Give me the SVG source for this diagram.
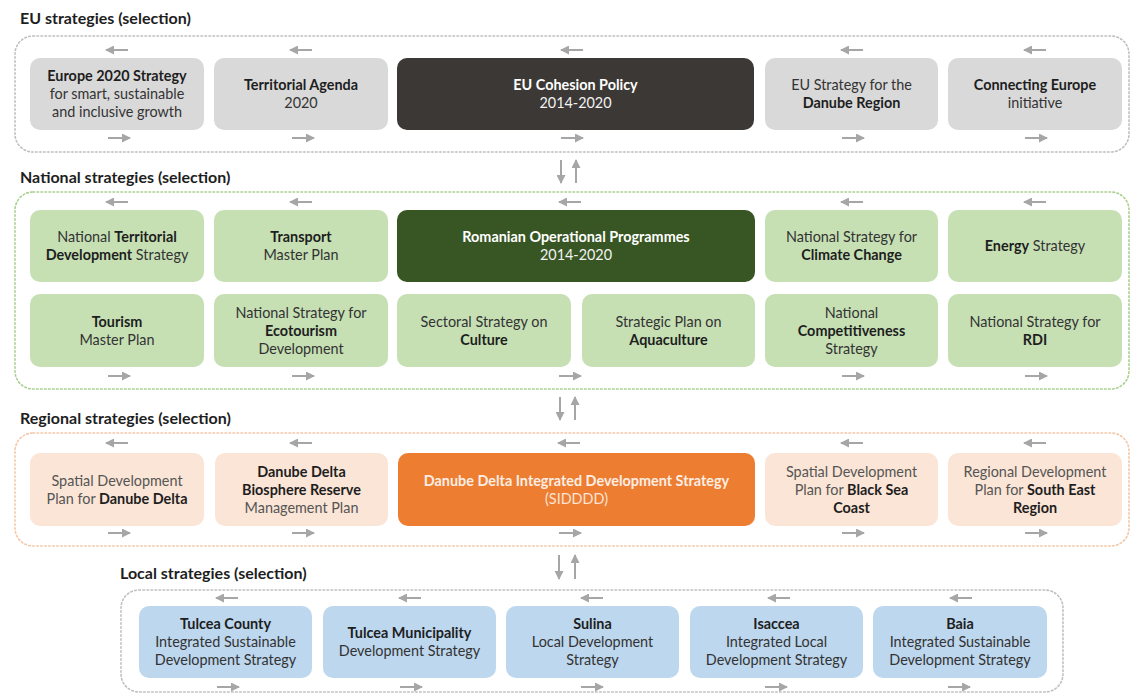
<svg xmlns="http://www.w3.org/2000/svg" width="1132" height="696" viewBox="0 0 1132 696">
<defs>
<marker id="ah" markerWidth="9" markerHeight="9" refX="8" refY="4.5" orient="auto" markerUnits="userSpaceOnUse">
<path d="M0,0 L9,4.5 L0,9 z" fill="#a6a6a6"/>
</marker>
<style>
text{font-family:Lato,"Liberation Sans",sans-serif;font-size:14.4px;text-anchor:middle;fill:#333}
.b{font-weight:bold;fill:#1e1e1e}
.title{font-size:16px;font-weight:bold;text-anchor:start;fill:#1e1e1e}
.cont{fill:none;stroke-width:1.6;stroke-dasharray:1.6 2.4;stroke-linecap:round}
.arr{stroke:#a6a6a6;stroke-width:2;fill:none;marker-end:url(#ah)}
.eu{fill:#d9d9d9}
.eud{fill:#3b3835}
.nat{fill:#c6e0b4}
.natd{fill:#385623}
.reg{fill:#fbe5d6}
.regd{fill:#ed7d31}
.loc{fill:#bdd7ee}
.lt{fill:#f2f2f2}
.lb{fill:#ffffff;font-weight:bold}
.rt{fill:#555}
</style>
</defs>

<!-- Section titles & containers -->
<g id="eu-section">
<text class="title" x="20" y="24">EU strategies (selection)</text>
<rect class="cont" x="15" y="36" width="1114" height="116" rx="18" stroke="#bfbfbf"/>
</g>
<g id="national-section">
<text class="title" x="20" y="183">National strategies (selection)</text>
<rect class="cont" x="15" y="192" width="1114" height="197" rx="18" stroke="#a9d08e"/>
</g>
<g id="regional-section">
<text class="title" x="20" y="424">Regional strategies (selection)</text>
<rect class="cont" x="15" y="433" width="1114" height="113" rx="18" stroke="#f4c7a6"/>
</g>
<g id="local-section">
<text class="title" x="120" y="579">Local strategies (selection)</text>
<rect class="cont" x="121" y="590" width="942" height="102" rx="18" stroke="#bfbfbf"/>
</g>

<!-- EU nodes -->
<g id="eu-europe2020"><rect class="eu" x="30" y="58" width="174" height="72" rx="10"/>
<text x="117" y="81"><tspan class="b">Europe 2020 Strategy</tspan></text>
<text x="117" y="99">for smart, sustainable</text>
<text x="117" y="117">and inclusive growth</text></g>
<g id="eu-territorial"><rect class="eu" x="214" y="58" width="174" height="72" rx="10"/>
<text x="301" y="90"><tspan class="b">Territorial Agenda</tspan></text>
<text x="301" y="108">2020</text></g>
<g id="eu-cohesion"><rect class="eud" x="397" y="58" width="357" height="72" rx="10"/>
<text x="575.5" y="90" class="lb">EU Cohesion Policy</text>
<text x="575.5" y="108" class="lt">2014-2020</text></g>
<g id="eu-danube"><rect class="eu" x="765" y="58" width="173" height="72" rx="10"/>
<text x="851.5" y="90">EU Strategy for the</text>
<text x="851.5" y="108"><tspan class="b">Danube Region</tspan></text></g>
<g id="eu-connecting"><rect class="eu" x="948" y="58" width="174" height="72" rx="10"/>
<text x="1035" y="90"><tspan class="b">Connecting Europe</tspan></text>
<text x="1035" y="108">initiative</text></g>

<!-- National nodes -->
<g id="nat-territorial"><rect class="nat" x="30" y="210" width="174" height="72" rx="10"/>
<text x="117" y="242">National <tspan class="b">Territorial</tspan></text>
<text x="117" y="260"><tspan class="b">Development</tspan> Strategy</text></g>
<g id="nat-transport"><rect class="nat" x="214" y="210" width="174" height="72" rx="10"/>
<text x="301" y="242"><tspan class="b">Transport</tspan></text>
<text x="301" y="260">Master Plan</text></g>
<g id="nat-rop"><rect class="natd" x="397" y="210" width="358" height="72" rx="10"/>
<text x="576" y="242" class="lb">Romanian Operational Programmes</text>
<text x="576" y="260" class="lt">2014-2020</text></g>
<g id="nat-climate"><rect class="nat" x="765" y="210" width="173" height="72" rx="10"/>
<text x="851.5" y="242">National Strategy for</text>
<text x="851.5" y="260"><tspan class="b">Climate Change</tspan></text></g>
<g id="nat-energy"><rect class="nat" x="948" y="210" width="174" height="72" rx="10"/>
<text x="1035" y="251"><tspan class="b">Energy</tspan> Strategy</text></g>

<g id="nat-tourism"><rect class="nat" x="30" y="294" width="174" height="73" rx="10"/>
<text x="117" y="326.5"><tspan class="b">Tourism</tspan></text>
<text x="117" y="344.5">Master Plan</text></g>
<g id="nat-ecotourism"><rect class="nat" x="214" y="294" width="174" height="73" rx="10"/>
<text x="301" y="317.5">National Strategy for</text>
<text x="301" y="335.5"><tspan class="b">Ecotourism</tspan></text>
<text x="301" y="353.5">Development</text></g>
<g id="nat-culture"><rect class="nat" x="397" y="294" width="174" height="73" rx="10"/>
<text x="484" y="326.5">Sectoral Strategy on</text>
<text x="484" y="344.5"><tspan class="b">Culture</tspan></text></g>
<g id="nat-aquaculture"><rect class="nat" x="582" y="294" width="173" height="73" rx="10"/>
<text x="668.5" y="326.5">Strategic Plan on</text>
<text x="668.5" y="344.5"><tspan class="b">Aquaculture</tspan></text></g>
<g id="nat-competitiveness"><rect class="nat" x="765" y="294" width="173" height="73" rx="10"/>
<text x="851.5" y="317.5">National</text>
<text x="851.5" y="335.5"><tspan class="b">Competitiveness</tspan></text>
<text x="851.5" y="353.5">Strategy</text></g>
<g id="nat-rdi"><rect class="nat" x="948" y="294" width="174" height="73" rx="10"/>
<text x="1035" y="326.5">National Strategy for</text>
<text x="1035" y="344.5"><tspan class="b">RDI</tspan></text></g>

<!-- Regional nodes -->
<g id="reg-spatial-delta"><rect class="reg" x="30" y="453" width="174" height="73" rx="10"/>
<text x="117" y="485.5" class="rt">Spatial Development</text>
<text x="117" y="503.5" class="rt">Plan for <tspan class="b">Danube Delta</tspan></text></g>
<g id="reg-biosphere"><rect class="reg" x="215" y="453" width="173" height="73" rx="10"/>
<text x="301.5" y="476.5"><tspan class="b">Danube Delta</tspan></text>
<text x="301.5" y="494.5"><tspan class="b">Biosphere Reserve</tspan></text>
<text x="301.5" y="512.5" class="rt">Management Plan</text></g>
<g id="reg-siddd"><rect class="regd" x="398" y="453" width="357" height="73" rx="10"/>
<text x="576.5" y="485.5" class="lb" style="fill:#fdeee4">Danube Delta Integrated Development Strategy</text>
<text x="576.5" y="503.5" style="fill:#fce4d6">(SIDDDD)</text></g>
<g id="reg-blacksea"><rect class="reg" x="765" y="453" width="173" height="73" rx="10"/>
<text x="851.5" y="476.5" class="rt">Spatial Development</text>
<text x="851.5" y="494.5" class="rt">Plan for <tspan class="b">Black Sea</tspan></text>
<text x="851.5" y="512.5"><tspan class="b">Coast</tspan></text></g>
<g id="reg-southeast"><rect class="reg" x="948" y="453" width="174" height="73" rx="10"/>
<text x="1035" y="476.5" class="rt">Regional Development</text>
<text x="1035" y="494.5" class="rt">Plan for <tspan class="b">South East</tspan></text>
<text x="1035" y="512.5"><tspan class="b">Region</tspan></text></g>

<!-- Local nodes -->
<g id="loc-tulcea-county"><rect class="loc" x="139" y="606" width="173" height="72" rx="10"/>
<text x="225.5" y="629"><tspan class="b">Tulcea County</tspan></text>
<text x="225.5" y="647">Integrated Sustainable</text>
<text x="225.5" y="665">Development Strategy</text></g>
<g id="loc-tulcea-mun"><rect class="loc" x="323" y="606" width="173" height="72" rx="10"/>
<text x="409.5" y="638"><tspan class="b">Tulcea Municipality</tspan></text>
<text x="409.5" y="656">Development Strategy</text></g>
<g id="loc-sulina"><rect class="loc" x="506" y="606" width="173" height="72" rx="10"/>
<text x="592.5" y="629"><tspan class="b">Sulina</tspan></text>
<text x="592.5" y="647">Local Development</text>
<text x="592.5" y="665">Strategy</text></g>
<g id="loc-isaccea"><rect class="loc" x="690" y="606" width="173" height="72" rx="10"/>
<text x="776.5" y="629"><tspan class="b">Isaccea</tspan></text>
<text x="776.5" y="647">Integrated Local</text>
<text x="776.5" y="665">Development Strategy</text></g>
<g id="loc-baia"><rect class="loc" x="873" y="606" width="174" height="72" rx="10"/>
<text x="960" y="629"><tspan class="b">Baia</tspan></text>
<text x="960" y="647">Integrated Sustainable</text>
<text x="960" y="665">Development Strategy</text></g>

<!-- Connectors -->
<g id="connectors">
<!-- EU -->
<path class="arr" d="M128,50 H106"/><path class="arr" d="M312,50 H290"/><path class="arr" d="M583,50 H561"/><path class="arr" d="M863,50 H841"/><path class="arr" d="M1046,50 H1024"/>
<path class="arr" d="M108,138 H130"/><path class="arr" d="M292,138 H314"/><path class="arr" d="M561,138 H583"/><path class="arr" d="M842,138 H864"/><path class="arr" d="M1025,138 H1047"/>
<!-- EU <-> National -->
<path class="arr" d="M561,160 V183"/><path class="arr" d="M576,183 V160"/>
<!-- National -->
<path class="arr" d="M128,202 H106"/><path class="arr" d="M312,202 H290"/><path class="arr" d="M581,202 H559"/><path class="arr" d="M863,202 H841"/><path class="arr" d="M1046,202 H1024"/>
<path class="arr" d="M108,376 H130"/><path class="arr" d="M292,376 H314"/><path class="arr" d="M559,376 H581"/><path class="arr" d="M842,376 H864"/><path class="arr" d="M1025,376 H1047"/>
<!-- National <-> Regional -->
<path class="arr" d="M560,397 V420"/><path class="arr" d="M575,420 V397"/>
<!-- Regional -->
<path class="arr" d="M128,443 H106"/><path class="arr" d="M312,443 H290"/><path class="arr" d="M580,443 H558"/><path class="arr" d="M863,443 H841"/><path class="arr" d="M1046,443 H1024"/>
<path class="arr" d="M108,533 H130"/><path class="arr" d="M292,533 H314"/><path class="arr" d="M559,533 H581"/><path class="arr" d="M842,533 H864"/><path class="arr" d="M1025,533 H1047"/>
<!-- Regional <-> Local -->
<path class="arr" d="M559,555 V579"/><path class="arr" d="M575,579 V555"/>
<!-- Local -->
<path class="arr" d="M238,598 H216"/><path class="arr" d="M421,598 H399"/><path class="arr" d="M603,598 H581"/><path class="arr" d="M790,598 H768"/><path class="arr" d="M972,598 H950"/>
<path class="arr" d="M217,687 H239"/><path class="arr" d="M400,687 H422"/><path class="arr" d="M581,687 H603"/><path class="arr" d="M765,687 H787"/><path class="arr" d="M948,687 H970"/>
</g>
</svg>
